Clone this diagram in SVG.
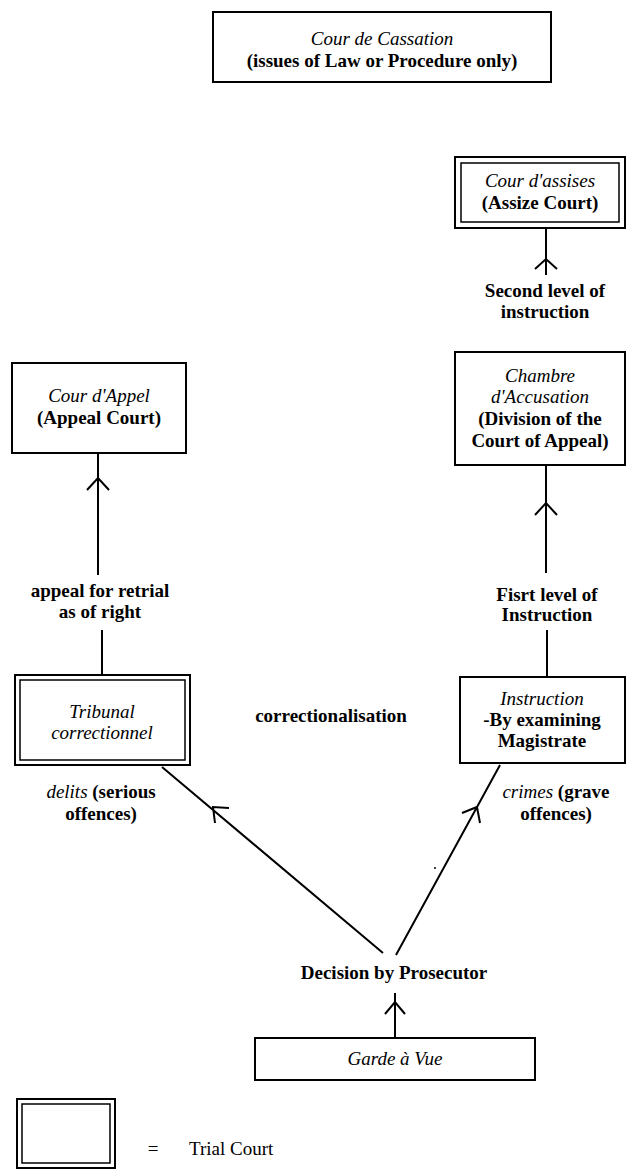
<svg xmlns="http://www.w3.org/2000/svg" width="626" height="1169" viewBox="0 0 626 1169">
<style>
.box{fill:#fff;stroke:#000;stroke-width:2}
.ib{fill:none;stroke:#000;stroke-width:1.5}
.ln{fill:none;stroke:#000;stroke-width:2}
text{font-family:"Liberation Serif","Times New Roman",serif;font-size:19px;fill:#000;text-anchor:middle}
.b{font-weight:bold}
.i{font-style:italic}
</style>
<rect width="626" height="1169" fill="#fff"/>
<g id="connectors">
<path class="ln" d="M546 228V275M535 269L546 259L557 269"/>
<path class="ln" d="M546 465V573M535 515L546 503L557 515"/>
<path class="ln" d="M98 453V575M87 490L98 478L109 490"/>
<path class="ln" d="M102 630V675"/>
<path class="ln" d="M547 630V677"/>
<path class="ln" d="M383 953L162 767M229 808L213 807L215 823"/>
<path class="ln" d="M396 955L500 765M462 813L477 807L480 823"/>
<path class="ln" d="M395 1038V993M385 1014L395 1002L405 1014"/>
<circle cx="435" cy="868" r="1" fill="#000"/>
</g>
<g id="cassation">
<rect class="box" x="213" y="12" width="338" height="70"/>
<text x="382" y="45" class="i">Cour de Cassation</text>
<text x="382" y="67" class="b">(issues of Law or Procedure only)</text>
</g>
<g id="assises">
<rect class="box" x="455" y="157" width="170" height="71"/>
<rect class="ib" x="461" y="163" width="158" height="59"/>
<text x="540" y="187" class="i">Cour d'assises</text>
<text x="540" y="209" class="b">(Assize Court)</text>
</g>
<g id="second-level">
<text x="545" y="297" class="b">Second level of</text>
<text x="545" y="318" class="b">instruction</text>
</g>
<g id="chambre">
<rect class="box" x="455" y="352" width="170" height="113"/>
<text x="540" y="382" class="i">Chambre</text>
<text x="540" y="403" class="i">d'Accusation</text>
<text x="540" y="425" class="b">(Division of the</text>
<text x="540" y="447" class="b">Court of Appeal)</text>
</g>
<g id="first-level">
<text x="547" y="601" class="b">Fisrt level of</text>
<text x="547" y="621" class="b">Instruction</text>
</g>
<g id="instruction">
<rect class="box" x="460" y="677" width="165" height="86"/>
<text x="542" y="705" class="i">Instruction</text>
<text x="542" y="726" class="b">-By examining</text>
<text x="542" y="747" class="b">Magistrate</text>
</g>
<g id="appel">
<rect class="box" x="12" y="363" width="174" height="90"/>
<text x="99" y="402" class="i">Cour d'Appel</text>
<text x="99" y="424" class="b">(Appeal Court)</text>
</g>
<g id="appeal-label">
<text x="100" y="597" class="b">appeal for retrial</text>
<text x="100" y="618" class="b">as of right</text>
</g>
<g id="tribunal">
<rect class="box" x="15" y="675" width="175" height="90"/>
<rect class="ib" x="20" y="680" width="165" height="80"/>
<text x="102" y="718" class="i">Tribunal</text>
<text x="102" y="739" class="i">correctionnel</text>
</g>
<g id="correctionalisation">
<text x="331" y="722" class="b">correctionalisation</text>
</g>
<g id="delits">
<text x="101" y="798"><tspan class="i">delits</tspan><tspan class="b"> (serious</tspan></text>
<text x="101" y="820" class="b">offences)</text>
</g>
<g id="crimes">
<text x="556" y="798"><tspan class="i">crimes</tspan><tspan class="b"> (grave</tspan></text>
<text x="556" y="820" class="b">offences)</text>
</g>
<g id="decision">
<text x="394" y="979" class="b">Decision by Prosecutor</text>
</g>
<g id="garde">
<rect class="box" x="255" y="1038" width="280" height="42"/>
<text x="395" y="1065" class="i">Garde à Vue</text>
</g>
<g id="legend">
<rect class="box" x="17" y="1099" width="98" height="69"/>
<rect class="ib" x="22" y="1104" width="88" height="59"/>
<text x="153" y="1155">=</text>
<text x="189" y="1155" style="text-anchor:start">Trial Court</text>
</g>
</svg>
